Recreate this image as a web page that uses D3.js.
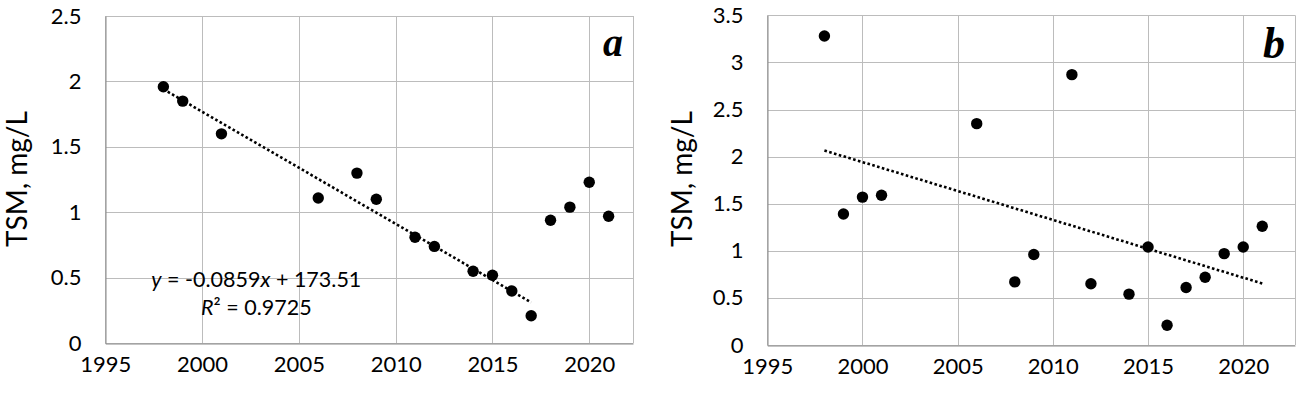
<!DOCTYPE html>
<html><head><meta charset="utf-8">
<script src="https://cdn.jsdelivr.net/npm/d3@7"></script>
<style>
html,body{margin:0;padding:0;background:#fff;}
svg{display:block;}
text{fill:#000;}
</style></head>
<body>
<svg id="chart" width="1303" height="393"></svg>
<script>
// ---- data ----
const yearsA = [1998,1999,2001,2006,2008,2009,2011,2012,2014,2015,2016,2017,2018,2019,2020,2021];
const tsmA   = [1.96,1.85,1.60,1.11,1.30,1.10,0.81,0.74,0.55,0.52,0.40,0.21,0.94,1.04,1.23,0.97];
const trendCountA = 12; // trend fitted on 1998–2017
const yearsB = [1998,1999,2000,2001,2006,2008,2009,2011,2012,2014,2015,2016,2017,2018,2019,2020,2021];
const tsmB   = [3.28,1.39,1.57,1.59,2.35,0.67,0.96,2.87,0.65,0.54,1.04,0.21,0.61,0.72,0.97,1.04,1.26];
const xTicks = [1995,2000,2005,2010,2015,2020];
const yTicksA = [0,0.5,1,1.5,2,2.5];
const yTicksB = [0,0.5,1,1.5,2,2.5,3,3.5];
const yLabel = "TSM, mg/L";
const eqLine1 = ["y"," = -0.0859","x"," + 173.51"];
const eqLine2 = ["R","²"," = 0.9725"];

const SANS = "Lato, 'Open Sans', sans-serif";
const svg = d3.select("#chart");

function fit(xs, ys){
  const n = xs.length, mx = d3.mean(xs), my = d3.mean(ys);
  let sxy=0, sxx=0;
  for(let i=0;i<n;i++){ sxy += (xs[i]-mx)*(ys[i]-my); sxx += (xs[i]-mx)**2; }
  const b = sxy/sxx; return {slope:b, intercept:my-b*mx};
}

function panel(opt){
  const g = svg.append("g");
  const x = d3.scaleLinear().domain(opt.xDomain).range([opt.left, opt.right]);
  const y = d3.scaleLinear().domain(opt.yDomain).range([opt.bottom, opt.top]);
  g.append("g").selectAll("line").data(xTicks).join("line")
    .attr("x1",d=>Math.round(x(d))+0.5).attr("x2",d=>Math.round(x(d))+0.5)
    .attr("y1",opt.top).attr("y2",opt.bottom)
    .attr("stroke","#bcbcbc").attr("stroke-width",1);
  g.append("g").selectAll("line").data(opt.yTicks).join("line")
    .attr("y1",d=>Math.round(y(d))+0.5).attr("y2",d=>Math.round(y(d))+0.5)
    .attr("x1",opt.left).attr("x2",opt.right)
    .attr("stroke","#bcbcbc").attr("stroke-width",1);
  g.append("line").attr("x1",Math.round(opt.right)+0.5).attr("x2",Math.round(opt.right)+0.5)
    .attr("y1",opt.top).attr("y2",opt.bottom).attr("stroke","#bcbcbc");
  const xAxis = d3.axisBottom(x).tickValues(xTicks).tickSize(0).tickPadding(13).tickFormat(d3.format("d"));
  const ax = g.append("g").attr("transform",`translate(0,${Math.round(opt.bottom)+0.5})`).call(xAxis);
  ax.select(".domain").attr("stroke","#8a8a8a");
  ax.selectAll("text").style("font-size","22px").style("font-family",SANS).attr("dy","0.71em").attr("fill","#000");
  const yAxis = d3.axisLeft(y).tickValues(opt.yTicks).tickSize(0).tickPadding(opt.yPad).tickFormat(d=>String(d));
  const ay = g.append("g").attr("transform",`translate(${Math.round(opt.left)+0.5},0)`).call(yAxis);
  ay.select(".domain").attr("stroke","#8a8a8a");
  ay.selectAll("text").style("font-size","22px").style("font-family",SANS).attr("fill","#000");
  g.append("text").attr("transform",`translate(${opt.labelX},${opt.labelY}) rotate(-90)`)
    .attr("text-anchor","middle").style("font-size","28px").style("font-family",SANS).text(yLabel);
  const fx = opt.years.slice(0,opt.trendN), fy = opt.values.slice(0,opt.trendN);
  const f = fit(fx, fy);
  const x0 = d3.min(fx), x1 = d3.max(fx);
  g.append("line")
    .attr("x1",x(x0)).attr("y1",y(f.intercept+f.slope*x0))
    .attr("x2",x(x1)).attr("y2",y(f.intercept+f.slope*x1))
    .attr("stroke","#000").attr("stroke-width",2.6).attr("stroke-dasharray","2.6 2.4");
  g.append("g").selectAll("circle").data(opt.years.map((d,i)=>[d,opt.values[i]])).join("circle")
    .attr("cx",d=>x(d[0])).attr("cy",d=>y(d[1])).attr("r",5.7).attr("fill","#000");
  g.append("text").attr("x",opt.right-10).attr("y",opt.letterY).attr("text-anchor","end")
    .style("font-family","'Liberation Serif', 'DejaVu Serif', serif").style("font-weight","bold").style("font-style","italic")
    .style("font-size",opt.letterSize+"px").text(opt.letter);
  return {g,x,y};
}

const pa = panel({left:105.3,right:633,top:16,bottom:343.3,xDomain:[1995,2022.26],yDomain:[0,2.5],
  yTicks:yTicksA, yPad:24, labelX:27, labelY:179, years:yearsA, values:tsmA, trendN:trendCountA,
  letter:"a", letterY:56, letterSize:40});
const pb = panel({left:767.3,right:1295,top:15.3,bottom:345,xDomain:[1995,2022.72],yDomain:[0,3.5],
  yTicks:yTicksB, yPad:24, labelX:692, labelY:179, years:yearsB, values:tsmB, trendN:yearsB.length,
  letter:"b", letterY:58, letterSize:44});

// trendline equation for panel a
const ex = pa.x(2002.8);
const t1 = pa.g.append("text").attr("x",ex).attr("y",pa.y(0.432)).attr("text-anchor","middle")
  .style("font-size","21.5px").style("font-family",SANS);
eqLine1.forEach((s,i)=>t1.append("tspan").style("font-style",(i===0||i===2)?"italic":"normal").text(s));
const t2 = pa.g.append("text").attr("x",ex).attr("y",pa.y(0.216)).attr("text-anchor","middle")
  .style("font-size","21.5px").style("font-family",SANS);
eqLine2.forEach((s,i)=>t2.append("tspan").style("font-style",i===0?"italic":"normal").text(s));
</script>
</body></html>
